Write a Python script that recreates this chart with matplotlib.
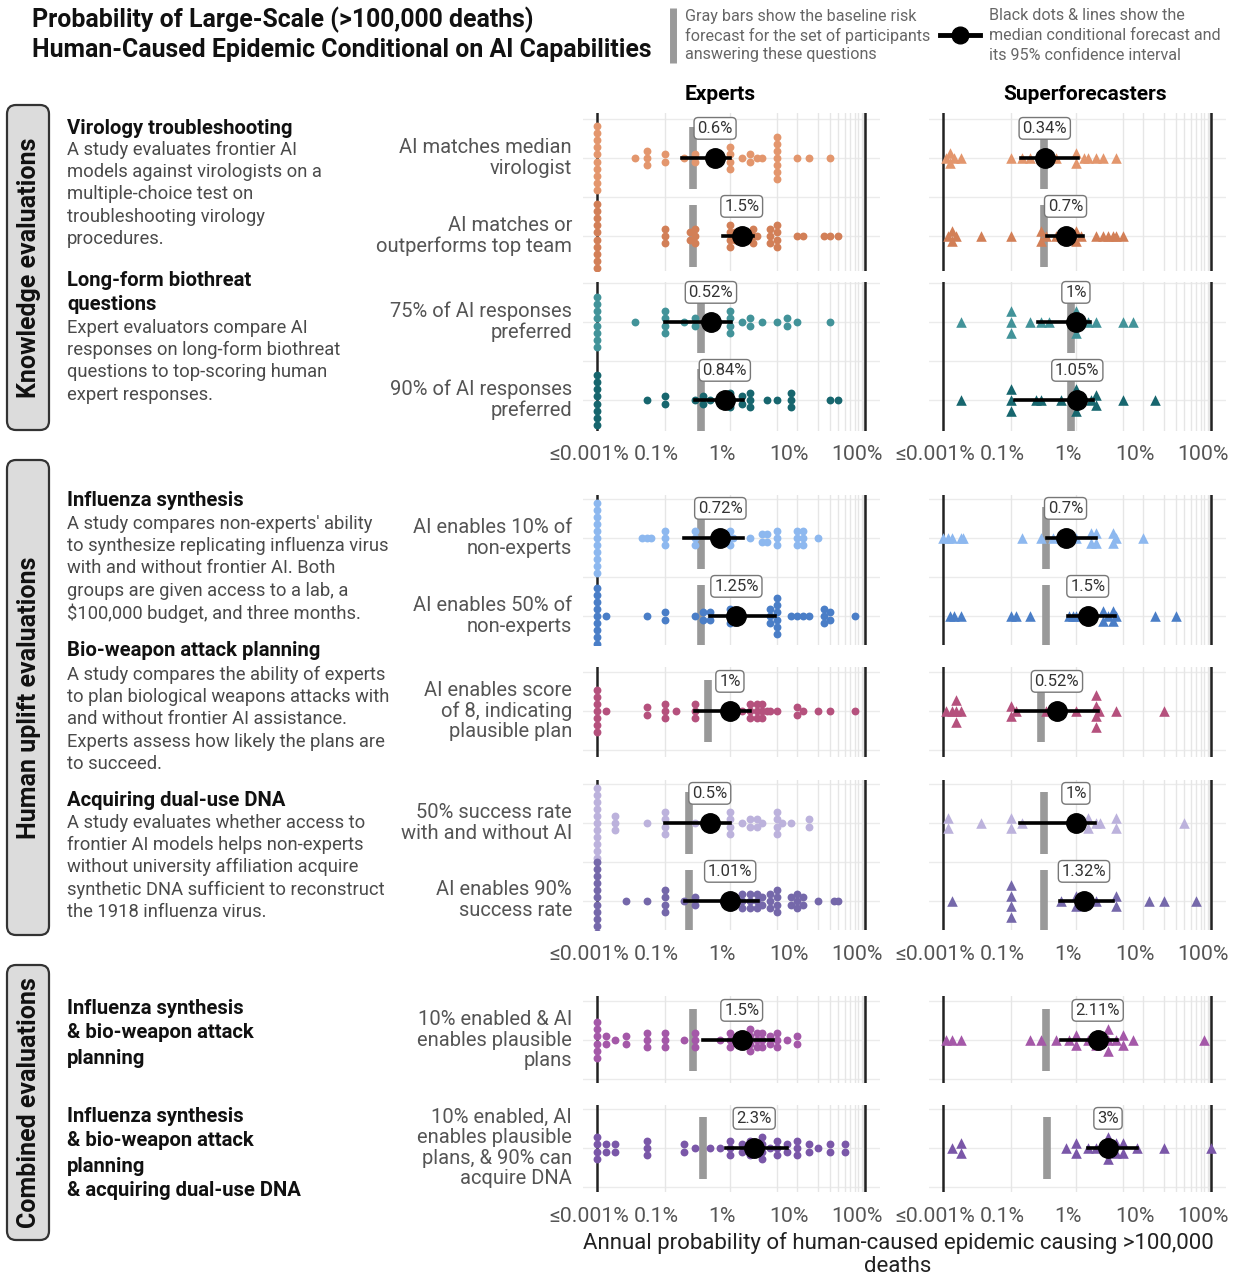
import numpy as np
import matplotlib
matplotlib.use("Agg")
import matplotlib.pyplot as plt
from matplotlib.patches import FancyBboxPatch
from matplotlib.transforms import ScaledTranslation, blended_transform_factory

plt.rcParams['font.family'] = ['Roboto', 'DejaVu Sans']

W, H = 1239, 1275

# ---------------- data (all values in percent) ----------------
row_labels = [
    "AI matches median\nvirologist",
    "AI matches or\noutperforms top team",
    "75% of AI responses\npreferred",
    "90% of AI responses\npreferred",
    "AI enables 10% of\nnon-experts",
    "AI enables 50% of\nnon-experts",
    "AI enables score\nof 8, indicating\nplausible plan",
    "50% success rate\nwith and without AI",
    "AI enables 90%\nsuccess rate",
    "10% enabled & AI\nenables plausible\nplans",
    "10% enabled, AI\nenables plausible\nplans, & 90% can\nacquire DNA",
]
row_colors = ['#E3966D', '#D27F57', '#429399', '#17666E', '#8DB8EF', '#4A7EC7',
              '#B5517D', '#BCB2DC', '#7568AA', '#A458A8', '#7A57A8']

exp_median = [0.6, 1.5, 0.52, 0.84, 0.72, 1.25, 1, 0.5, 1.01, 1.5, 2.3]
exp_lo = [0.185, 0.79, 0.1, 0.3, 0.2, 0.5, 0.3, 0.1, 0.21, 0.4, 0.875]
exp_hi = [1.0, 2.18, 1.03, 1.56, 1.56, 4.6, 1.97, 1.0, 2.6, 4.4, 7.1]
exp_base = [0.28, 0.28, 0.37, 0.37, 0.37, 0.37, 0.47, 0.24, 0.24, 0.28, 0.40]

sup_median = [0.34, 0.7, 1, 1.05, 0.7, 1.5, 0.52, 1, 1.32, 2.11, 3]
sup_lo = [0.144, 0.37, 0.27, 0.116, 0.37, 0.76, 0.12, 0.14, 0.58, 0.6, 1.5]
sup_hi = [1.07, 1.27, 1.61, 1.78, 1.97, 3.87, 2.1, 1.9, 3.5, 4.1, 8.1]
sup_base = [0.335, 0.335, 0.85, 0.85, 0.36, 0.36, 0.30, 0.335, 0.335, 0.36, 0.37]

exp_v1 = [0.001] * 10 + [0.03, 0.05, 0.05, 0.05, 0.1, 0.1, 0.2, 0.3, 0.3, 1, 1, 1, 1,
                         1.5, 2, 2, 2.5, 3, 5, 5, 5, 5, 5, 5, 5, 10, 15, 30]
exp_v2 = [0.001] * 10 + [0.1, 0.1, 0.1, 0.25, 0.25, 0.3, 0.3, 0.3, 1, 1, 1, 1, 1.2, 1.2,
                         2.2, 2.2, 2.2, 2.5, 4, 4, 4, 5, 5, 5, 5, 10, 12, 25, 30, 40]
exp_l1 = [0.001] * 8 + [0.03, 0.1, 0.1, 0.1, 0.1, 0.2, 0.3, 0.3, 0.5, 1, 1, 1, 1, 1.5,
                        2, 2, 3, 5, 7, 7, 10, 30]
exp_l2 = [0.001] * 8 + [0.05, 0.1, 0.1, 0.3, 0.4, 0.4, 0.5, 0.7, 0.8, 1, 1, 1, 1.5, 1.5,
                        2, 2, 2, 3.5, 5, 8, 8, 8, 30, 40]
exp_i1 = [0.001] * 11 + [0.04, 0.05, 0.06, 0.1, 0.1, 0.1, 0.3, 0.3, 0.3, 1, 1, 1, 1.1, 2,
                         3, 3, 3.5, 3.5, 5, 5, 5, 10, 10, 10, 12, 12, 12, 20]
exp_i2 = [0.001] * 9 + [0.005, 0.05, 0.1, 0.1, 0.3, 0.4, 0.4, 0.5, 0.5, 1, 1, 1, 4, 4, 4,
                        5, 5, 5, 5, 5, 5, 8, 10, 12, 15, 25, 25, 25, 30, 30, 70]
exp_b = [0.001] * 7 + [0.005, 0.05, 0.05, 0.1, 0.1, 0.1, 0.15, 0.3, 0.3, 0.3, 1, 1, 1.5,
                       2, 2, 2, 2.5, 2.5, 2.5, 3, 3, 3, 3.5, 4, 5, 10, 10, 12, 20, 30, 70]
exp_d1 = [0.001] * 11 + [0.01, 0.01, 0.01, 0.05, 0.1, 0.1, 0.1, 0.1, 0.3, 1, 1, 1, 1,
                         1.5, 2, 2, 2.5, 2.5, 3, 5, 5, 5, 5, 6, 8, 15, 15]
exp_d2 = [0.001] * 12 + [0.02, 0.05, 0.1, 0.1, 0.1, 0.1, 0.2, 0.3, 0.3, 0.8, 1, 1,
                         1.5, 1.5, 1.5, 2, 2, 2, 2.5, 2.5, 2.5, 3, 3, 4, 4, 4, 5, 5, 5, 5,
                         8, 8, 10, 10, 10, 12, 12, 20, 35, 40]
exp_f = [0.001] * 6 + [0.005, 0.005, 0.01, 0.02, 0.02, 0.05, 0.05, 0.05, 0.1, 0.1, 0.1,
                       0.2, 0.3, 0.3, 0.3, 0.7, 1, 1, 1, 1.5, 1.5, 2, 2, 2, 2, 2.5, 2.5,
                       2.5, 3, 3, 3, 4, 4, 5, 5, 5, 7, 10, 10]
exp_g = [0.001] * 4 + [0.005, 0.005, 0.01, 0.01, 0.05, 0.05, 0.05, 0.2, 0.2, 0.3, 0.5,
                       0.7, 1, 1, 1, 1.5, 1.5, 2, 2, 2, 3, 3, 3, 3, 4, 5, 5, 5, 7, 7,
                       10, 10, 10, 15, 15, 20, 30, 30, 50, 50]

sup_v1 = [0.002, 0.004, 0.004, 0.006, 0.01, 0.1, 0.15, 0.2, 0.3, 0.5, 1, 1, 1.3, 1.5,
          2, 2.5, 4]
sup_v2 = [0.003, 0.005, 0.005, 0.007, 0.03, 0.1, 0.3, 0.3, 0.35, 0.5, 0.6, 1, 1, 1.2,
          2, 2.5, 3, 3.5, 4, 5]
sup_l1 = [0.01, 0.1, 0.1, 0.1, 0.2, 0.3, 0.4, 1, 1, 1, 1.5, 2, 5, 7]
sup_l2 = [0.01, 0.1, 0.1, 0.1, 0.25, 0.3, 0.6, 1, 1, 1, 1.7, 2, 2, 5, 15]
sup_i1 = [0.001, 0.003, 0.005, 0.01, 0.012, 0.15, 0.3, 0.45, 0.6, 1, 1.7, 1.7, 2, 2,
          3.5, 3.5, 4, 10]
sup_i2 = [0.004, 0.006, 0.01, 0.1, 0.12, 0.2, 0.8, 0.9, 1, 1.5, 2.5, 2.5, 3, 3.5, 3.5,
          4, 15, 30]
sup_b = [0.002, 0.005, 0.007, 0.007, 0.007, 0.01, 0.1, 0.1, 0.12, 0.35, 0.5, 1, 2, 2,
         2, 2, 2.2, 4, 20]
sup_d1 = [0.003, 0.003, 0.03, 0.1, 0.1, 0.15, 1, 1.5, 1.5, 2, 2.3, 4, 4, 40]
sup_d2 = [0.005, 0.1, 0.1, 0.1, 0.1, 0.6, 1, 1, 1.5, 2, 4, 4, 12, 20, 60]
sup_f = [0.002, 0.005, 0.01, 0.2, 0.3, 0.5, 0.8, 1, 1, 1.5, 2, 2, 2.5, 3, 3, 3, 4, 5,
         5, 7, 80]
sup_g = [0.005, 0.01, 0.01, 0.7, 1, 1, 1.5, 2, 3, 3, 3, 4, 4, 5, 5, 8, 20, 100]

exp_points = [exp_v1, exp_v2, exp_l1, exp_l2, exp_i1, exp_i2, exp_b, exp_d1, exp_d2, exp_f, exp_g]
sup_points = [sup_v1, sup_v2, sup_l1, sup_l2, sup_i1, sup_i2, sup_b, sup_d1, sup_d2, sup_f, sup_g]

tick_vals = [0.001, 0.1, 1, 10, 100]
tick_text = ['≤0.001%', '0.1%', '1%', '10%', '100%']
minor_grid = [5, 10, 20, 30, 40, 50, 60, 70, 80, 90, 93, 95, 97, 98, 99]


# ---------------- helpers ----------------
def fwd(x):
    return np.log10(np.maximum(x, -0.0099) + 0.01)


def inv(u):
    return 10.0 ** u - 0.01


def stack(vals, dy):
    vals = np.asarray(vals, float)
    ys = np.zeros(len(vals))
    for v in np.unique(vals):
        idx = np.where(vals == v)[0]
        ys[idx] = (np.arange(len(idx)) - (len(idx) - 1) / 2) * dy
    return ys


fig = plt.figure(figsize=(W / 100, H / 100), dpi=100)
bg = fig.add_axes([0, 0, 1, 1])
bg.set_xlim(0, W)
bg.set_ylim(H, 0)
bg.axis('off')

# title + legend
bg.text(32, 20, "Probability of Large-Scale (>100,000 deaths)", fontsize=17.9,
        fontweight='bold', va='center', color='#111')
bg.text(32, 50, "Human-Caused Epidemic Conditional on AI Capabilities", fontsize=17.9,
        fontweight='bold', va='center', color='#111')
bg.plot([673, 673], [8, 63], color='#9a9a9a', lw=5, solid_capstyle='butt')
for k, s in enumerate(["Gray bars show the baseline risk",
                       "forecast for the set of participants",
                       "answering these questions"]):
    bg.text(685, 16 + 19.5 * k, s, fontsize=11.6, color='#666', va='center')
bg.plot([940, 980], [35, 35], color='black', lw=3.5)
bg.plot([960], [35], 'o', color='black', ms=12)
for k, s in enumerate(["Black dots & lines show the",
                       "median conditional forecast and",
                       "its 95% confidence interval"]):
    bg.text(989, 16 + 19.5 * k, s, fontsize=11.6, color='#666', va='center')

bg.text(720, 94, "Experts", fontsize=15, fontweight='bold', ha='center', va='center')
bg.text(1085, 94, "Superforecasters", fontsize=15, fontweight='bold', ha='center', va='center')

# side group boxes
for y0, y1, s in [(105, 430, "Knowledge evaluations"),
                  (460, 935, "Human uplift evaluations"),
                  (965, 1240, "Combined evaluations")]:
    bg.add_patch(FancyBboxPatch((7, y0), 42, y1 - y0,
                                boxstyle='round,pad=0,rounding_size=9',
                                fc='#DCDCDC', ec='#333333', lw=1.6))
    bg.text(29, (y0 + y1) / 2, s, rotation=90, fontsize=18, fontweight='bold',
            ha='center', va='center', color='#111')

# descriptions
desc = [
    (128, ["Virology troubleshooting"], 150,
     ["A study evaluates frontier AI", "models against virologists on a",
      "multiple-choice test on", "troubleshooting virology", "procedures."]),
    (280, ["Long-form biothreat", "questions"], 328,
     ["Expert evaluators compare AI", "responses on long-form biothreat",
      "questions to top-scoring human", "expert responses."]),
    (501, ["Influenza synthesis"], 524,
     ["A study compares non-experts' ability", "to synthesize replicating influenza virus",
      "with and without frontier AI. Both", "groups are given access to a lab, a",
      "$100,000 budget, and three months."]),
    (651, ["Bio-weapon attack planning"], 675,
     ["A study compares the ability of experts", "to plan biological weapons attacks with",
      "and without frontier AI assistance.", "Experts assess how likely the plans are",
      "to succeed."]),
    (800, ["Acquiring dual-use DNA"], 823,
     ["A study evaluates whether access to", "frontier AI models helps non-experts",
      "without university affiliation acquire", "synthetic DNA sufficient to reconstruct",
      "the 1918 influenza virus."]),
    (1008, ["Influenza synthesis", "& bio-weapon attack", "planning"], 0, []),
    (1116, ["Influenza synthesis", "& bio-weapon attack", "planning",
            "& acquiring dual-use DNA"], 0, []),
]
for hy, heads, by, body in desc:
    for k, s in enumerate(heads):
        bg.text(67, hy + 25 * k, s, fontsize=14.6, fontweight='bold', va='center', color='#111')
    for k, s in enumerate(body):
        bg.text(67, by + 22.2 * k, s, fontsize=13.2, va='center', color='#4a4a4a')

bg.text(898, 1243, "Annual probability of human-caused epidemic causing >100,000",
        fontsize=16, ha='center', va='center', color='#222')
bg.text(898, 1266, "deaths", fontsize=16, ha='center', va='center', color='#222')

# ---------------- panels ----------------
facets = [(113, 271, [158, 236]), (282, 431, [322, 400]), (495, 645, [538, 616]),
          (667, 757, [711]), (780, 930, [823, 900]), (996, 1083, [1040]),
          (1105, 1192, [1148])]
tick_facets = [1, 4, 6]
cols = [((583, 880), exp_points, exp_median, exp_lo, exp_hi, exp_base, 'o', 32, 0.09),
        ((929, 1226), sup_points, sup_median, sup_lo, sup_hi, sup_base, '^', 58, 0.135)]

kscale = 268 / (fwd(100) - fwd(0.001))
xlo = inv(fwd(0.001) - 14 / kscale)
xhi = inv(fwd(100) + 15 / kscale)
step = 78.0
shift = ScaledTranslation(-8 / 100, -24 / 100, fig.dpi_scale_trans)

ri = 0
for fi, (top, bot, rows) in enumerate(facets):
    r0 = rows[0]
    for (x0, x1), pts, med, lo, hi, base, mk, sz, dy in cols:
        ax = fig.add_axes([x0 / W, 1 - bot / H, (x1 - x0) / W, (bot - top) / H])
        ax.set_xscale('function', functions=(fwd, inv))
        ax.set_xlim(xlo, xhi)
        ax.set_ylim((bot - r0) / step, (top - r0) / step)
        for sp in ax.spines.values():
            sp.set_visible(False)
        for yy in np.arange(-0.5, len(rows) - 0.4, 0.5):
            ax.axhline(yy, color='#EBEBEB', lw=1, zorder=0)
        for gx in [0.1, 1] + minor_grid:
            ax.axvline(gx, color='#E6E6E6', lw=1, zorder=0)
        ax.axvline(0.001, color='#222', lw=1.8, zorder=1)
        ax.axvline(100, color='#222', lw=1.8, zorder=1)
        for j in range(len(rows)):
            i = ri + j
            ax.plot([base[i], base[i]], [j - 0.4, j + 0.4], color='#999999', lw=5.5,
                    solid_capstyle='butt', zorder=2)
            ax.scatter(pts[i], j + stack(pts[i], dy), s=sz, marker=mk, color=row_colors[i],
                       linewidths=0, zorder=3)
            ax.plot([lo[i], hi[i]], [j, j], color='black', lw=2.6, zorder=4)
            ax.plot([med[i]], [j], 'o', color='black', ms=14, zorder=5)
            ax.text(med[i], j - 0.38, f"{med[i]:g}%", ha='center', va='center', fontsize=12,
                    color='#333', zorder=6,
                    bbox=dict(boxstyle='round,pad=0.2,rounding_size=0.25', fc='white',
                              ec='#777777', lw=1))
        ax.set_xticks([])
        ax.set_yticks([])
        ax.minorticks_off()
        if fi in tick_facets:
            tr = blended_transform_factory(ax.transData, ax.transAxes) + shift
            for tv, tt in zip(tick_vals, tick_text):
                ax.text(tv, 0, tt, transform=tr, ha='center', va='center', fontsize=15.3,
                        color='#555', clip_on=False)
    for j, rpx in enumerate(rows):
        bg.text(572, rpx, row_labels[ri + j], fontsize=14.5, color='#555', ha='right',
                va='center', linespacing=1.1)
    ri += len(rows)

fig.savefig("out.png", dpi=100)
